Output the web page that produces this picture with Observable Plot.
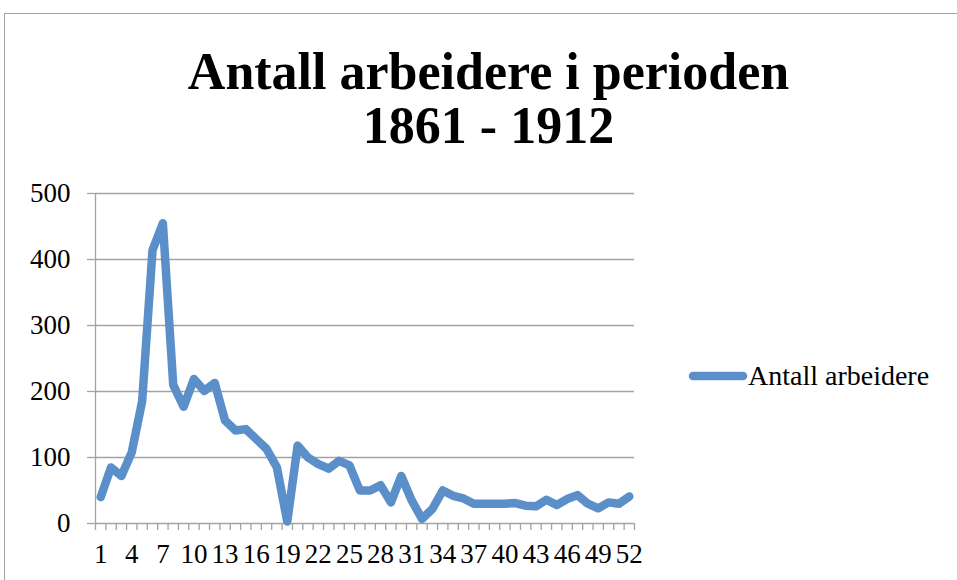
<!DOCTYPE html>
<html>
<head>
<meta charset="utf-8">
<script src="https://cdn.jsdelivr.net/npm/d3@7"></script>
<script src="https://cdn.jsdelivr.net/npm/@observablehq/plot@0.6"></script>
<style>
  html, body { margin: 0; padding: 0; background: #fff; }
  #wrap { position: relative; width: 957px; height: 580px; overflow: hidden; font-family: "Liberation Serif", serif; }
  #frame { position: absolute; left: 4px; top: 13px; width: 1200px; height: 1200px; border: 1px solid #a3a3a3; box-sizing: border-box; }
  #chart { position: absolute; left: 0; top: 0; }
  #chart svg text { font-family: "Liberation Serif", serif !important; }
  #overlay { position: absolute; left: 0; top: 0; pointer-events: none; }
</style>
</head>
<body>
<div id="wrap">
  <div id="frame"></div>
  <div id="chart"></div>
  <svg id="overlay" width="957" height="580"></svg>
</div>
<script>
const titleLines = ["Antall arbeidere i perioden", "1861 - 1912"];
const seriesName = "Antall arbeidere";
const periods = [1,2,3,4,5,6,7,8,9,10,11,12,13,14,15,16,17,18,19,20,21,22,23,24,25,26,
                 27,28,29,30,31,32,33,34,35,36,37,38,39,40,41,42,43,44,45,46,47,48,49,50,51,52];
const values = [40,85,72,108,185,414,455,210,177,219,
                201,213,156,141,143,128,113,85,3,118,
                100,90,83,95,88,50,50,58,32,72,
                35,7,22,50,42,38,30,30,30,30,
                31,27,26,36,28,37,43,30,23,32,30,41];
const xTickLabels = [1,4,7,10,13,16,19,22,25,28,31,34,37,40,43,46,49,52];
const yTicks = [0,100,200,300,400,500];

const data = periods.map((p, i) => ({period: p, value: values[i]}));
const boundaries = [periods[0] - 0.5, ...periods.map(p => p + 0.5)];

const lineColor = "#5b8fc9";
const gridColor = "#a3a3a3";
const fam = "Liberation Serif, serif";

const chart = Plot.plot({
  width: 957,
  height: 580,
  marginLeft: 95,
  marginRight: 323,
  marginTop: 193,
  marginBottom: 57,
  style: "font-family: 'Liberation Serif', serif; font-size: 27px; color: #000; background: transparent; overflow: visible;",
  x: {type: "linear", domain: [boundaries[0], boundaries[boundaries.length - 1]]},
  y: {domain: [0, 500]},
  marks: [
    Plot.gridY(yTicks.filter(d => d > 0), {stroke: gridColor, strokeOpacity: 1, strokeWidth: 1.3}),
    Plot.axisY(yTicks, {tickSize: 8, tickPadding: 17, stroke: gridColor, strokeWidth: 1.3, label: null, fill: "#000", fontSize: 27, fontFamily: fam}),
    Plot.axisX(boundaries, {tickSize: 7, tickFormat: () => "", stroke: gridColor, strokeWidth: 1.3, label: null}),
    Plot.axisX(xTickLabels, {tickSize: 0, tickPadding: 20, label: null, fill: "#000", fontSize: 27, fontFamily: fam}),
    Plot.ruleY([0], {stroke: gridColor, strokeWidth: 1.3}),
    Plot.ruleX([boundaries[0]], {stroke: gridColor, strokeWidth: 1.3}),
    Plot.lineY(data, {x: "period", y: "value", stroke: lineColor, strokeWidth: 8.5, strokeLinejoin: "round", strokeLinecap: "round"})
  ]
});
document.getElementById("chart").appendChild(chart);

const ov = d3.select("#overlay");
ov.append("text").attr("x", 488.5).attr("y", 89).attr("text-anchor", "middle")
  .attr("font-family", fam).attr("font-weight", "bold").attr("font-size", 52)
  .text(titleLines[0]);
ov.append("text").attr("x", 488.5).attr("y", 143).attr("text-anchor", "middle")
  .attr("font-family", fam).attr("font-weight", "bold").attr("font-size", 52)
  .text(titleLines[1]);
ov.append("line").attr("x1", 693).attr("x2", 743).attr("y1", 376).attr("y2", 376)
  .attr("stroke", lineColor).attr("stroke-width", 8.5).attr("stroke-linecap", "round");
ov.append("text").attr("x", 748).attr("y", 385).attr("font-family", fam)
  .attr("font-size", 28).text(seriesName);
</script>
</body>
</html>
